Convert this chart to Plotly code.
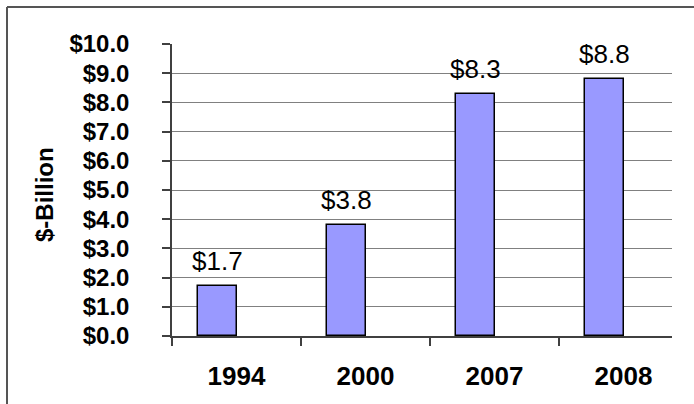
import plotly.graph_objects as go

years = ["1994", "2000", "2007", "2008"]
values = [1.7, 3.8, 8.3, 8.8]
value_labels = ["$1.7", "$3.8", "$8.3", "$8.8"]
y_ticks = [0, 1, 2, 3, 4, 5, 6, 7, 8, 9, 10]
y_tick_text = ["$%.1f" % v for v in y_ticks]

FONT = "Liberation Sans, Arial, sans-serif"
BAR_W = 0.295

fig = go.Figure()
fig.add_trace(go.Bar(
    x=years, y=values,
    width=BAR_W, offset=-BAR_W,
    marker=dict(color="#9999FF", line=dict(color="#000000", width=1.5)),
    hoverinfo="skip",
))

annotations = []
for i, (v, t) in enumerate(zip(values, value_labels)):
    annotations.append(dict(
        x=i - BAR_W / 2, y=v, xref="x", yref="y", text=t, showarrow=False,
        yanchor="bottom", xanchor="center", yshift=8,
        font=dict(family=FONT, size=26, color="#000000"),
    ))
annotations.append(dict(
    x=(44 - 172) / 500, y=(336 - 195) / 292, xref="paper", yref="paper",
    text="<b>$-Billion</b>", textangle=-90, showarrow=False,
    xanchor="center", yanchor="middle",
    font=dict(family=FONT, size=24, color="#000000"),
))

shapes = [
    dict(type="line", xref="paper", yref="paper",
         x0=(7 - 172) / 500, y0=(336 - 410) / 292, x1=(7 - 172) / 500, y1=(336 - 7) / 292,
         line=dict(color="#555555", width=2)),
    dict(type="line", xref="paper", yref="paper",
         x0=(7 - 172) / 500, y0=(336 - 7) / 292, x1=(700 - 172) / 500, y1=(336 - 7) / 292,
         line=dict(color="#555555", width=2)),
]

fig.update_layout(
    width=694, height=404,
    margin=dict(l=172, r=22, t=44, b=68),
    paper_bgcolor="white", plot_bgcolor="white",
    showlegend=False, bargap=0,
    font=dict(family=FONT, color="#000000"),
    annotations=annotations, shapes=shapes,
)
fig.update_xaxes(
    type="category", range=[-0.5, -0.5 + 500 / 129],
    tickson="boundaries", ticks="outside", ticklen=8, tickwidth=1.5, tickcolor="#404040",
    showline=True, linecolor="#404040", linewidth=1.5, showgrid=False,
    tickfont=dict(family=FONT, size=26, color="#000000", weight="bold"),
    ticklabelstandoff=16,
)
fig.update_yaxes(
    range=[0, 10], tickvals=y_ticks, ticktext=y_tick_text,
    ticks="outside", ticklen=8, tickwidth=1.5, tickcolor="#404040",
    showline=True, linecolor="#404040", linewidth=1.5,
    showgrid=True, gridcolor="#808080", gridwidth=1, zeroline=False,
    tickfont=dict(family=FONT, size=24, color="#000000", weight="bold"),
    ticklabelstandoff=28,
)

fig.write_html("out.html")
